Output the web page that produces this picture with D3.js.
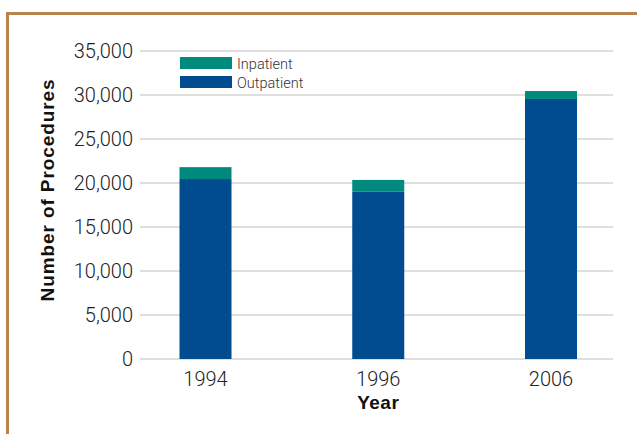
<!DOCTYPE html>
<html><head><meta charset="utf-8">
<script src="https://cdn.jsdelivr.net/npm/d3@7"></script>
<style>
html,body{margin:0;padding:0;background:#fff;}
svg{display:block;font-family:"Liberation Sans",Arial,sans-serif;}
</style></head>
<body>
<svg id="chart" width="637" height="434"></svg>
<script>
const years = ["1994", "1996", "2006"];
const outpatient = [20450, 19000, 29550];
const inpatient = [1350, 1350, 900];
const yTicks = [0, 5000, 10000, 15000, 20000, 25000, 30000, 35000];
const seriesNames = ["Inpatient", "Outpatient"];
const seriesColors = ["#008a7d", "#014b8f"];

const svg = d3.select("#chart");

// border frame
svg.append("path")
  .attr("d", "M7.5,434 L7.5,13.5 L637,13.5")
  .attr("fill", "none").attr("stroke", "#b9834e").attr("stroke-width", 3);

const y = d3.scaleLinear().domain([0, 35000]).range([359, 51]);
const x = d3.scalePoint().domain(years).range([205.5, 551]);
const barW = 52;
const gridX0 = 140, gridX1 = 613;
const lightFont = "Roboto, 'Liberation Sans', sans-serif";

// gridlines
svg.append("g").selectAll("line").data(yTicks).join("line")
  .attr("x1", gridX0).attr("x2", gridX1)
  .attr("y1", d => y(d)).attr("y2", d => y(d))
  .attr("stroke", "#d4d4d4").attr("stroke-width", 1.5);

// y tick labels
const fmt = d3.format(",");
svg.append("g").selectAll("text").data(yTicks).join("text")
  .attr("x", 133).attr("y", d => y(d) + 7)
  .attr("text-anchor", "end")
  .attr("font-size", 20).attr("font-weight", 300)
  .attr("fill", "#222")
  .style("font-family", lightFont)
  .text(d => fmt(d));

// stacked bars
const rows = years.map((yr, i) => ({year: yr, Outpatient: outpatient[i], Inpatient: inpatient[i]}));
const stack = d3.stack().keys(["Outpatient", "Inpatient"])(rows);
const colorOf = {Inpatient: seriesColors[0], Outpatient: seriesColors[1]};
svg.append("g").selectAll("g").data(stack).join("g")
  .attr("fill", s => colorOf[s.key])
  .selectAll("rect").data(s => s).join("rect")
  .attr("x", d => x(d.data.year) - barW / 2)
  .attr("width", barW)
  .attr("y", d => y(d[1]))
  .attr("height", d => y(d[0]) - y(d[1]));

// x tick labels
svg.append("g").selectAll("text").data(years).join("text")
  .attr("x", d => x(d)).attr("y", 386)
  .attr("text-anchor", "middle")
  .attr("font-size", 20).attr("font-weight", 300)
  .attr("fill", "#222")
  .style("font-family", lightFont)
  .text(d => d);

// axis titles
svg.append("text")
  .attr("x", x("1996")).attr("y", 409)
  .attr("text-anchor", "middle")
  .attr("font-size", 19).attr("font-weight", "bold").attr("fill", "#111")
  .attr("letter-spacing", 0.5)
  .text("Year");

svg.append("text")
  .attr("transform", "translate(54,190) rotate(-90)")
  .attr("text-anchor", "middle")
  .attr("font-size", 19).attr("font-weight", "bold").attr("fill", "#111")
  .attr("letter-spacing", 0.9)
  .text("Number of Procedures");

// legend
const leg = svg.append("g").attr("transform", "translate(180,57)");
seriesNames.forEach((name, i) => {
  const g = leg.append("g").attr("transform", `translate(0,${i * 19})`);
  g.append("rect").attr("width", 52).attr("height", 12).attr("fill", seriesColors[i]);
  g.append("text").attr("x", 57).attr("y", 11.5)
    .attr("font-size", 14.5).attr("font-weight", 300).attr("fill", "#333")
    .style("font-family", lightFont)
    .text(name);
});
</script>
</body></html>
